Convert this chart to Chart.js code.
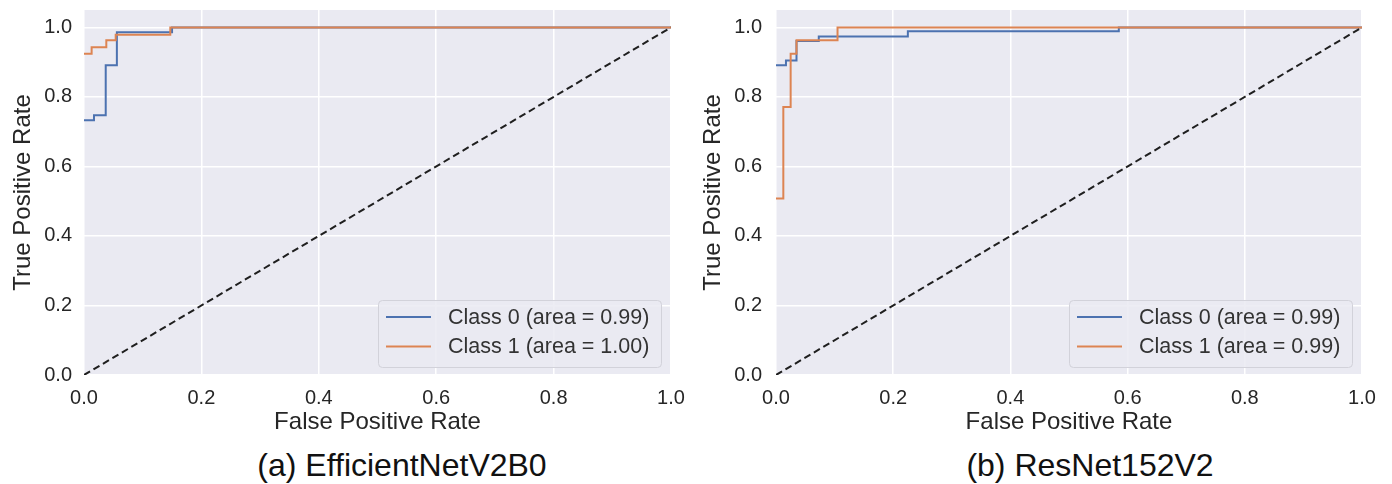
<!DOCTYPE html>
<html>
<head>
<meta charset="utf-8">
<script src="https://cdn.jsdelivr.net/npm/chart.js@4.4.0/dist/chart.umd.min.js"></script>
<style>
    body { margin: 0; background: #fff; width: 1392px; height: 484px; position: relative; overflow: hidden;
           font-family: "Liberation Sans", Arial, sans-serif; }
    .wrap { position: absolute; top: 0; height: 440px; }
    #wrapA { left: 0; width: 690px; }
    #wrapB { left: 690px; width: 702px; }
    .caption { position: absolute; top: 446px; width: 400px; font-size: 32px; line-height: 38px;
               color: #111; text-align: center; white-space: nowrap; }
</style>
</head>
<body>
<div class="wrap" id="wrapA"><canvas id="rocA" width="690" height="440"></canvas></div>
<div class="wrap" id="wrapB"><canvas id="rocB" width="702" height="440"></canvas></div>
<div class="caption" style="left:202px">(a) EfficientNetV2B0</div>
<div class="caption" style="left:890px">(b) ResNet152V2</div>
<script>
// (a) EfficientNetV2B0
var effClass0Fpr = [0, 0.017, 0.037, 0.056, 0.150, 1];
var effClass0Tpr = [0.733, 0.747, 0.891, 0.986, 1.0, 1.0];
var effClass1Fpr = [0, 0.013, 0.038, 0.054, 0.147, 1];
var effClass1Tpr = [0.924, 0.943, 0.963, 0.979, 1.0, 1.0];
var effLabels = ['Class 0 (area = 0.99)', 'Class 1 (area = 1.00)'];

// (b) ResNet152V2
var resClass0Fpr = [0, 0.017, 0.035, 0.073, 0.225, 0.585, 1];
var resClass0Tpr = [0.891, 0.905, 0.961, 0.974, 0.989, 1.0, 1.0];
var resClass1Fpr = [0, 0.0125, 0.025, 0.035, 0.105, 1];
var resClass1Tpr = [0.508, 0.771, 0.924, 0.963, 1.0, 1.0];
var resLabels = ['Class 0 (area = 0.99)', 'Class 1 (area = 0.99)'];

var chanceLine = [0, 1];
var yTicks = [0, 0.2, 0.4, 0.6, 0.8, 1.0];

Chart.defaults.font.family = '"Liberation Sans", Arial, sans-serif';
Chart.defaults.color = '#262626';

function toPoints(xs, ys) {
    var pts = [];
    for (var i = 0; i < xs.length; i++) pts.push({ x: xs[i], y: ys[i] });
    return pts;
}

var plotBg = {
    id: 'plotBg',
    beforeDraw: function (chart) {
        var a = chart.chartArea, ctx = chart.ctx;
        ctx.save();
        ctx.fillStyle = '#EAEAF2';
        ctx.fillRect(a.left, a.top, a.right - a.left, a.bottom - a.top);
        ctx.restore();
    }
};

// legend box in the lower right corner, like matplotlib's loc="lower right"
var boxLegend = {
    id: 'boxLegend',
    afterDatasetsDraw: function (chart) {
        var ctx = chart.ctx, a = chart.chartArea;
        var sets = chart.data.datasets.filter(function (d) { return !d.noLegend; });
        ctx.save();
        ctx.font = '21.5px "Liberation Sans", Arial, sans-serif';
        var w = 0;
        sets.forEach(function (s) { w = Math.max(w, ctx.measureText(s.label).width); });
        var boxW = Math.round(w + 82), boxH = 67;
        var x = Math.round(a.right - 10 - boxW), y = Math.round(a.bottom - 8 - boxH);
        ctx.beginPath();
        ctx.roundRect(x + 0.5, y + 0.5, boxW, boxH, 4);
        ctx.fillStyle = 'rgba(234,234,242,0.85)';
        ctx.fill();
        ctx.strokeStyle = '#d2d2da';
        ctx.lineWidth = 1;
        ctx.stroke();
        sets.forEach(function (s, i) {
            var ly = y + 17 + i * 29.5;
            ctx.strokeStyle = s.borderColor;
            ctx.lineWidth = 2;
            ctx.beginPath();
            ctx.moveTo(x + 8, ly);
            ctx.lineTo(x + 53, ly);
            ctx.stroke();
            ctx.fillStyle = '#333333';
            ctx.textBaseline = 'middle';
            ctx.textAlign = 'left';
            ctx.fillText(s.label, x + 70, ly + 1);
        });
        ctx.restore();
    }
};

function createRoc(elementId, fpr0, tpr0, fpr1, tpr1, labels, yAxisWidth, rightPad, yTickPad) {
    var ctx = document.getElementById(elementId).getContext('2d');
    return new Chart(ctx, {
        type: 'scatter',
        data: {
            datasets: [
                {
                    label: labels[0],
                    data: toPoints(fpr0, tpr0),
                    showLine: true,
                    stepped: 'before',
                    borderColor: '#4C72B0',
                    borderWidth: 2,
                    pointRadius: 0,
                    fill: false,
                    order: 2
                },
                {
                    label: labels[1],
                    data: toPoints(fpr1, tpr1),
                    showLine: true,
                    stepped: 'before',
                    borderColor: '#DD8452',
                    borderWidth: 2,
                    pointRadius: 0,
                    fill: false,
                    order: 1
                },
                {
                    label: 'chance',
                    noLegend: true,
                    data: toPoints(chanceLine, chanceLine),
                    showLine: true,
                    borderColor: '#1f1f1f',
                    borderWidth: 2,
                    borderDash: [7, 4],
                    pointRadius: 0,
                    fill: false,
                    order: 0
                }
            ]
        },
        options: {
            animation: false,
            responsive: false,
            layout: { padding: { top: 10, right: rightPad, bottom: 0, left: 0 } },
            plugins: { legend: { display: false }, tooltip: { enabled: false } },
            scales: {
                x: {
                    type: 'linear',
                    min: 0,
                    max: 1,
                    afterFit: function (s) {
                        s.height = 65;
                        s.paddingLeft = 0;
                        s.paddingRight = 0;
                    },
                    ticks: {
                        stepSize: 0.2,
                        padding: 11,
                        maxRotation: 0,
                        autoSkip: false,
                        font: { size: 20 },
                        color: '#262626',
                        callback: function (v) { return Number(v).toFixed(1); }
                    },
                    grid: { color: '#ffffff', lineWidth: 1.5, drawTicks: false },
                    border: { display: false },
                    title: {
                        display: true,
                        text: 'False Positive Rate',
                        font: { size: 24 },
                        color: '#262626',
                        padding: { top: 0, bottom: 3 }
                    }
                },
                y: {
                    type: 'linear',
                    min: 0,
                    max: 1.05,
                    afterFit: function (s) {
                        s.width = yAxisWidth;
                        s.paddingTop = 0;
                        s.paddingBottom = 0;
                    },
                    afterBuildTicks: function (s) {
                        s.ticks = yTicks.map(function (v) { return { value: v }; });
                    },
                    ticks: {
                        padding: yTickPad,
                        font: { size: 20 },
                        color: '#262626',
                        callback: function (v) { return Number(v).toFixed(1); }
                    },
                    grid: { color: '#ffffff', lineWidth: 1.5, drawTicks: false },
                    border: { display: false },
                    title: {
                        display: true,
                        text: 'True Positive Rate',
                        font: { size: 24 },
                        color: '#262626',
                        padding: { top: 9, bottom: 0 }
                    }
                }
            }
        },
        plugins: [plotBg, boxLegend]
    });
}

createRoc('rocA', effClass0Fpr, effClass0Tpr, effClass1Fpr, effClass1Tpr, effLabels, 84, 19, 12);
createRoc('rocB', resClass0Fpr, resClass0Tpr, resClass1Fpr, resClass1Tpr, resLabels, 86, 30, 14);
</script>
</body>
</html>
